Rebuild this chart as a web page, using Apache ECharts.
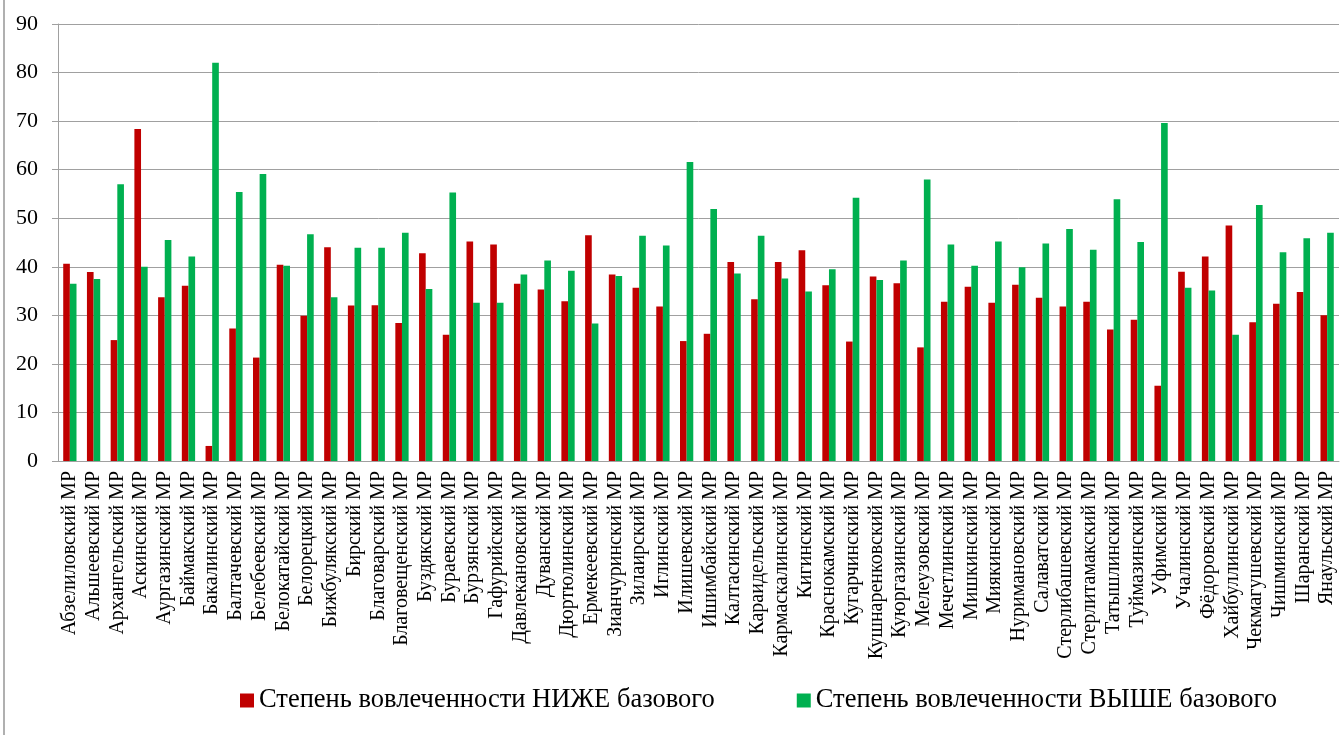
<!DOCTYPE html>
<html>
<head>
<meta charset="utf-8">
<script src="https://cdn.jsdelivr.net/npm/echarts@6/dist/echarts.min.js"></script>
<style>
html,body{margin:0;padding:0;background:#fff;}
#chart{width:1341px;height:735px;}
</style>
</head>
<body>
<div id="chart"></div>
<script>
const categories = [
"Абзелиловский МР","Альшеевский МР","Архангельский МР","Аскинский МР","Аургазинский МР","Баймакский МР",
"Бакалинский МР","Балтачевский МР","Белебеевский МР","Белокатайский МР","Белорецкий МР","Бижбулякский МР",
"Бирский МР","Благоварский МР","Благовещенский МР","Буздякский МР","Бураевский МР","Бурзянский МР",
"Гафурийский МР","Давлекановский МР","Дуванский МР","Дюртюлинский МР","Ермекеевский МР","Зианчуринский МР",
"Зилаирский МР","Иглинский МР","Илишевский МР","Ишимбайский МР","Калтасинский МР","Караидельский МР",
"Кармаскалинский МР","Кигинский МР","Краснокамский МР","Кугарчинский МР","Кушнаренковский МР","Куюргазинский МР",
"Мелеузовский МР","Мечетлинский МР","Мишкинский МР","Миякинский МР","Нуримановский МР","Салаватский МР",
"Стерлибашевский МР","Стерлитамакский МР","Татышлинский МР","Туймазинский МР","Уфимский МР","Учалинский МР",
"Фёдоровский МР","Хайбуллинский МР","Чекмагушевский МР","Чишминский МР","Шаранский МР","Янаульский МР"
];
const belowBase = [
40.6,38.9,24.9,68.4,33.7,36.1,3.1,27.3,21.3,40.4,29.9,44.0,
32.0,32.1,28.4,42.8,26.0,45.2,44.6,36.5,35.3,32.9,46.5,38.4,
35.7,31.8,24.7,26.2,41.0,33.3,41.0,43.4,36.2,24.6,38.0,36.6,
23.4,32.8,35.9,32.6,36.3,33.6,31.8,32.8,27.1,29.1,15.5,39.0,
42.1,48.5,28.6,32.4,34.8,30.0
];
const aboveBase = [
36.5,37.5,57.0,40.0,45.5,42.1,82.0,55.4,59.1,40.2,46.7,33.7,
43.9,43.9,47.0,35.4,55.3,32.6,32.6,38.4,41.3,39.2,28.3,38.1,
46.4,44.4,61.6,51.9,38.6,46.4,37.6,34.9,39.5,54.2,37.3,41.3,
58.0,44.6,40.2,45.2,39.9,44.8,47.8,43.5,53.9,45.1,69.6,35.7,
35.1,26.0,52.7,43.0,45.9,47.0
];
const seriesNames = ["Степень вовлеченности НИЖЕ базового","Степень вовлеченности ВЫШЕ базового"];
const yTicks = {min:0, max:90, interval:10};

const font = '"Liberation Serif","Times New Roman",serif';
const chart = echarts.init(document.getElementById('chart'));
chart.setOption({
  animation:false,
  backgroundColor:'#fff',
  textStyle:{fontFamily:font,color:'#000'},
  graphic:[{type:'line',shape:{x1:4,y1:0,x2:4,y2:735},style:{stroke:'#b0b0b0',lineWidth:2},silent:true}],
  grid:{left:58,right:2,top:24,bottom:274,containLabel:false},
  legend:{
    data:seriesNames,
    left:235, top:682,
    itemWidth:14,itemHeight:14,itemGap:82,
    icon:'rect',
    textStyle:{fontFamily:font,fontSize:26.5,color:'#000'}
  },
  xAxis:{
    type:'category',
    data:categories,
    axisLine:{lineStyle:{color:'#a0a0a0',width:1}},
    axisTick:{show:false},
    axisLabel:{rotate:90,interval:0,margin:10,fontFamily:font,fontSize:20,color:'#000'}
  },
  yAxis:{
    type:'value',
    min:yTicks.min,max:yTicks.max,interval:yTicks.interval,
    axisLine:{show:true,lineStyle:{color:'#a0a0a0',width:1}},
    axisTick:{show:true,length:6,lineStyle:{color:'#a0a0a0'}},
    splitLine:{lineStyle:{color:'#a0a0a0',width:1}},
    axisLabel:{margin:20,fontFamily:font,fontSize:22,color:'#000'}
  },
  series:[
    {name:seriesNames[0],type:'bar',data:belowBase,barWidth:'28%',barGap:'0%',itemStyle:{color:'#C00000'}},
    {name:seriesNames[1],type:'bar',data:aboveBase,barWidth:'28%',barGap:'0%',itemStyle:{color:'#00B050'}}
  ]
});
</script>
</body>
</html>
